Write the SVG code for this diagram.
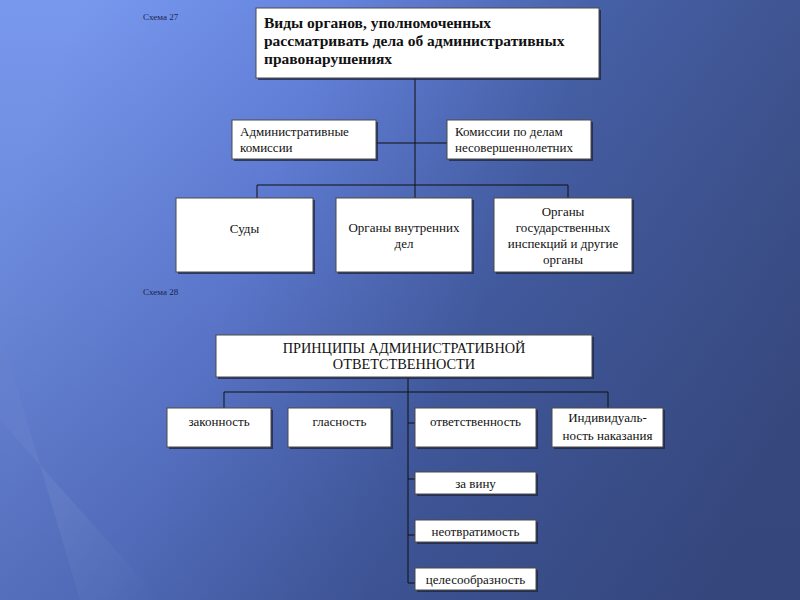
<svg xmlns="http://www.w3.org/2000/svg" width="800" height="600" viewBox="0 0 800 600">
<defs>
<linearGradient id="bg" x1="0" y1="0.35" x2="1" y2="0.65">
<stop offset="0" stop-color="#7898ee"/>
<stop offset="0.3" stop-color="#6482dc"/>
<stop offset="0.6" stop-color="#4660a6"/>
<stop offset="1" stop-color="#3a4c82"/>
</linearGradient>
<linearGradient id="streak" x1="0" y1="0" x2="1" y2="1">
<stop offset="0" stop-color="#ffffff" stop-opacity="0"/>
<stop offset="0.5" stop-color="#ffffff" stop-opacity="0.06"/>
<stop offset="1" stop-color="#ffffff" stop-opacity="0"/>
</linearGradient>
<linearGradient id="dark" x1="0" y1="0" x2="0" y2="1">
<stop offset="0" stop-color="#2a3a70" stop-opacity="0"/>
<stop offset="1" stop-color="#2a3a70" stop-opacity="0.35"/>
</linearGradient>
</defs>
<style>
.box{fill:#ffffff;stroke:#4a4a4a;stroke-width:1}
.sh{fill:#1c2340;opacity:0.75}
.t{font-family:'Liberation Serif','Times New Roman','DejaVu Serif',serif;font-size:13px;fill:#111}
.c{text-anchor:middle}
.b{font-weight:bold;font-size:15.5px}
.cap{font-size:14.3px}
.lbl{font-family:'Liberation Serif','DejaVu Serif',serif;font-size:9px;fill:#1a2450}
.ln{stroke:#111;stroke-width:1;fill:none}
</style>
<rect width="800" height="600" fill="url(#bg)"/>
<rect width="800" height="600" fill="url(#dark)"/>
<polygon points="0,330 80,600 160,600 0,420" fill="url(#streak)"/>
<text class="lbl" x="143" y="20">Схема 27</text>
<text class="lbl" x="143" y="295">Схема 28</text>

<g id="connectors">
<path class="ln" d="M415,78 V198 M376,143 H447 M257,185 H568 M257,185 V198 M568,185 V198"/>
<path class="ln" d="M408,372 V583 M404,373 H412 M224,392 H608 M224,392 V408 M608,392 V408 M408,423 H415 M408,479 H415 M408,535 H415 M408,583 H415"/>
</g>

<g id="n-title">
<rect class="sh" x="258" y="10" width="343" height="70"/>
<rect class="box" x="256" y="8" width="343" height="70"/>
<text class="t b" x="264" y="28">Виды органов, уполномоченных</text>
<text class="t b" x="264" y="46">рассматривать дела об административных</text>
<text class="t b" x="264" y="64">правонарушениях</text>
</g>
<g id="n-adm">
<rect class="sh" x="234" y="122" width="144" height="39"/>
<rect class="box" x="232" y="120" width="144" height="39"/>
<text class="t" x="240" y="136">Административные</text>
<text class="t" x="240" y="152">комиссии</text>
</g>
<g id="n-kdn">
<rect class="sh" x="449" y="122" width="144" height="39"/>
<rect class="box" x="447" y="120" width="144" height="39"/>
<text class="t" x="455" y="136">Комиссии по делам</text>
<text class="t" x="455" y="152">несовершеннолетних</text>
</g>
<g id="n-sudy">
<rect class="sh" x="178" y="200" width="137" height="74"/>
<rect class="box" x="176" y="198" width="137" height="74"/>
<text class="t c" x="244.5" y="233">Суды</text>
</g>
<g id="n-ovd">
<rect class="sh" x="338" y="200" width="136" height="74"/>
<rect class="box" x="336" y="198" width="136" height="74"/>
<text class="t c" x="404" y="232">Органы внутренних</text>
<text class="t c" x="404" y="248">дел</text>
</g>
<g id="n-insp">
<rect class="sh" x="496" y="200" width="138" height="74"/>
<rect class="box" x="494" y="198" width="138" height="74"/>
<text class="t c" x="563" y="216">Органы</text>
<text class="t c" x="563" y="232">государственных</text>
<text class="t c" x="563" y="248">инспекций и другие</text>
<text class="t c" x="563" y="264">органы</text>
</g>

<g id="n-princ">
<rect class="sh" x="218" y="337" width="376" height="42"/>
<rect class="box" x="216" y="335" width="376" height="42"/>
<text class="t c cap" x="404" y="353">ПРИНЦИПЫ АДМИНИСТРАТИВНОЙ</text>
<text class="t c cap" x="404" y="369">ОТВЕТСТВЕННОСТИ</text>
</g>
<g id="n-zak">
<rect class="sh" x="169" y="410" width="104" height="39"/>
<rect class="box" x="167" y="408" width="104" height="39"/>
<text class="t c" x="219" y="426">законность</text>
</g>
<g id="n-glas">
<rect class="sh" x="290" y="410" width="103" height="39"/>
<rect class="box" x="288" y="408" width="103" height="39"/>
<text class="t c" x="339.5" y="426">гласность</text>
</g>
<g id="n-otv">
<rect class="sh" x="417" y="410" width="121" height="39"/>
<rect class="box" x="415" y="408" width="121" height="39"/>
<text class="t c" x="475.5" y="426">ответственность</text>
</g>
<g id="n-ind">
<rect class="sh" x="554" y="410" width="111" height="39"/>
<rect class="box" x="552" y="408" width="111" height="39"/>
<text class="t c" x="607.5" y="422">Индивидуаль-</text>
<text class="t c" x="607.5" y="440">ность наказания</text>
</g>
<g id="n-vina">
<rect class="sh" x="417" y="474" width="121" height="22"/>
<rect class="box" x="415" y="472" width="121" height="22"/>
<text class="t c" x="475.5" y="488">за вину</text>
</g>
<g id="n-neotv">
<rect class="sh" x="417" y="522" width="121" height="22"/>
<rect class="box" x="415" y="520" width="121" height="22"/>
<text class="t c" x="475.5" y="536">неотвратимость</text>
</g>
<g id="n-cel">
<rect class="sh" x="417" y="570" width="121" height="22"/>
<rect class="box" x="415" y="568" width="121" height="22"/>
<text class="t c" x="475.5" y="584">целесообразность</text>
</g>
</svg>
